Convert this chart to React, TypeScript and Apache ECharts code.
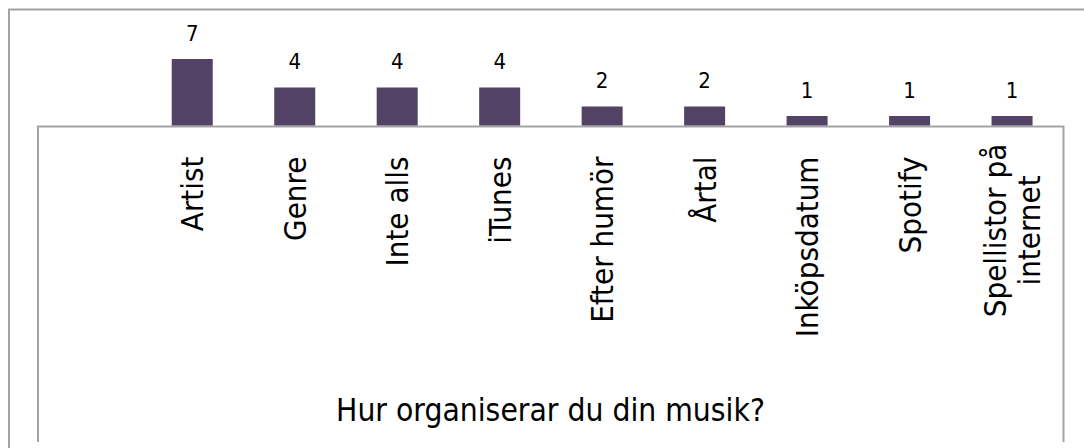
import React, { useEffect, useRef } from "react";
import * as echarts from "echarts";

const categories = [
  "Artist",
  "Genre",
  "Inte alls",
  "iTunes",
  "Efter humör",
  "Årtal",
  "Inköpsdatum",
  "Spotify",
  "Spellistor på\ninternet",
];
const counts = [7, 4, 4, 4, 2, 2, 1, 1, 1];
const axisTitle = "Hur organiserar du din musik?";

const FONT = "'DejaVu Sans Condensed', 'DejaVu Sans', sans-serif";
const BAR = "#524366";
const FRAME = "#a3a3a3";

export default function App() {
  const ref = useRef<HTMLDivElement>(null);
  useEffect(() => {
    document.body.style.margin = "0";
    const chart = echarts.init(ref.current!, undefined, { renderer: "svg" });
    chart.setOption({
      animation: false,
      backgroundColor: "#ffffff",
      grid: {
        left: 141,
        right: 20.7,
        top: 30.5,
        bottom: 322.5,
        containLabel: false,
        outerBoundsMode: "none",
      },
      xAxis: {
        type: "category",
        data: categories,
        axisLine: { show: false },
        axisTick: { show: false },
        splitLine: { show: false },
        axisLabel: {
          interval: 0,
          rotate: 90,
          margin: 31,
          fontSize: 31,
          fontFamily: FONT,
          color: "#000000",
          formatter: (v: string) =>
            v.indexOf("\n") >= 0
              ? v
                  .split("\n")
                  .map((s) => "{c|" + s + "}")
                  .join("\n")
              : v,
          rich: {
            c: {
              width: 148,
              align: "center",
              fontSize: 31,
              fontFamily: FONT,
              color: "#000000",
              lineHeight: 34,
            },
          },
        },
      },
      yAxis: {
        type: "value",
        min: 0,
        max: 10,
        show: false,
        splitLine: { show: false },
      },
      series: [
        {
          type: "bar",
          data: counts,
          barWidth: 41,
          itemStyle: { color: BAR },
          label: {
            show: true,
            position: "top",
            distance: 15,
            fontSize: 22,
            fontFamily: FONT,
            color: "#000000",
          },
        },
      ],
      graphic: [
        {
          type: "polyline",
          shape: {
            points: [
              [9, 460],
              [9, 9.5],
              [1100, 9.5],
            ],
          },
          style: { stroke: FRAME, lineWidth: 2, fill: "none" },
          silent: true,
        },
        {
          type: "polyline",
          shape: {
            points: [
              [38, 442],
              [38, 126.5],
              [1063.5, 126.5],
              [1063.5, 442],
            ],
          },
          style: { stroke: FRAME, lineWidth: 2, fill: "none" },
          silent: true,
        },
        {
          type: "text",
          x: 550.5,
          y: 410,
          style: {
            text: axisTitle,
            align: "center",
            verticalAlign: "middle",
            fontSize: 31.5,
            fontFamily: FONT,
            fill: "#000000",
          },
          silent: true,
        },
      ],
    });
    return () => chart.dispose();
  }, []);
  return <div ref={ref} style={{ width: 1084, height: 448 }} />;
}
